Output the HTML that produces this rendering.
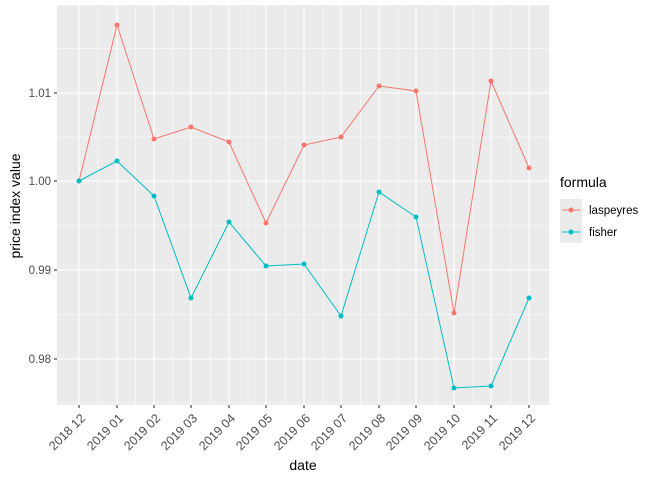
<!DOCTYPE html><html><head><style>body{margin:0;background:#fff}</style></head><body>
<svg width="672" height="480" xmlns="http://www.w3.org/2000/svg" font-family="Liberation Sans, sans-serif">
<rect x="57" y="5" width="492" height="400" fill="#EBEBEB"/>
<g stroke="#fff" stroke-width="0.55">
<line x1="57" x2="549" y1="48.5" y2="48.5"/><line x1="57" x2="549" y1="137" y2="137"/><line x1="57" x2="549" y1="225.5" y2="225.5"/><line x1="57" x2="549" y1="314.5" y2="314.5"/><line x1="57" x2="549" y1="403" y2="403"/>
<line y1="5" y2="405" x1="98" x2="98"/><line y1="5" y2="405" x1="135.5" x2="135.5"/><line y1="5" y2="405" x1="173" x2="173"/><line y1="5" y2="405" x1="210.5" x2="210.5"/><line y1="5" y2="405" x1="248" x2="248"/><line y1="5" y2="405" x1="285.5" x2="285.5"/><line y1="5" y2="405" x1="323" x2="323"/><line y1="5" y2="405" x1="360.5" x2="360.5"/><line y1="5" y2="405" x1="398" x2="398"/><line y1="5" y2="405" x1="435.5" x2="435.5"/><line y1="5" y2="405" x1="473" x2="473"/><line y1="5" y2="405" x1="510.5" x2="510.5"/>
</g>
<g stroke="#fff" stroke-width="1.1">
<line x1="57" x2="549" y1="93" y2="93"/><line x1="57" x2="549" y1="181" y2="181"/><line x1="57" x2="549" y1="270" y2="270"/><line x1="57" x2="549" y1="359" y2="359"/>
<line y1="5" y2="405" x1="79" x2="79"/><line y1="5" y2="405" x1="117" x2="117"/><line y1="5" y2="405" x1="154" x2="154"/><line y1="5" y2="405" x1="191" x2="191"/><line y1="5" y2="405" x1="229" x2="229"/><line y1="5" y2="405" x1="266" x2="266"/><line y1="5" y2="405" x1="304" x2="304"/><line y1="5" y2="405" x1="341" x2="341"/><line y1="5" y2="405" x1="379" x2="379"/><line y1="5" y2="405" x1="416" x2="416"/><line y1="5" y2="405" x1="454" x2="454"/><line y1="5" y2="405" x1="491" x2="491"/><line y1="5" y2="405" x1="529" x2="529"/>
</g>
<polyline fill="none" stroke="#F8766D" points="79,181 117,25 154,139 191,127 229,142 266,223 304,145 341,137 379,86 416,91 454,313 491,81 529,168"/>
<polyline fill="none" stroke="#00BFC4" points="79,181 117,161 154,196 191,298 229,222 266,266 304,264 341,316 379,192 416,217 454,388 491,386 529,298"/>
<g fill="#F8766D"><circle cx="79" cy="181" r="2.5"/><circle cx="117" cy="25" r="2.5"/><circle cx="154" cy="139" r="2.5"/><circle cx="191" cy="127" r="2.5"/><circle cx="229" cy="142" r="2.5"/><circle cx="266" cy="223" r="2.5"/><circle cx="304" cy="145" r="2.5"/><circle cx="341" cy="137" r="2.5"/><circle cx="379" cy="86" r="2.5"/><circle cx="416" cy="91" r="2.5"/><circle cx="454" cy="313" r="2.5"/><circle cx="491" cy="81" r="2.5"/><circle cx="529" cy="168" r="2.5"/></g>
<g fill="#00BFC4"><circle cx="79" cy="181" r="2.5"/><circle cx="117" cy="161" r="2.5"/><circle cx="154" cy="196" r="2.5"/><circle cx="191" cy="298" r="2.5"/><circle cx="229" cy="222" r="2.5"/><circle cx="266" cy="266" r="2.5"/><circle cx="304" cy="264" r="2.5"/><circle cx="341" cy="316" r="2.5"/><circle cx="379" cy="192" r="2.5"/><circle cx="416" cy="217" r="2.5"/><circle cx="454" cy="388" r="2.5"/><circle cx="491" cy="386" r="2.5"/><circle cx="529" cy="298" r="2.5"/></g>
<g stroke="#333" stroke-width="1.1">
<line x1="54" x2="57" y1="93" y2="93"/><line x1="54" x2="57" y1="181" y2="181"/><line x1="54" x2="57" y1="270" y2="270"/><line x1="54" x2="57" y1="359" y2="359"/>
<line y1="405" y2="408" x1="79" x2="79"/><line y1="405" y2="408" x1="117" x2="117"/><line y1="405" y2="408" x1="154" x2="154"/><line y1="405" y2="408" x1="191" x2="191"/><line y1="405" y2="408" x1="229" x2="229"/><line y1="405" y2="408" x1="266" x2="266"/><line y1="405" y2="408" x1="304" x2="304"/><line y1="405" y2="408" x1="341" x2="341"/><line y1="405" y2="408" x1="379" x2="379"/><line y1="405" y2="408" x1="416" x2="416"/><line y1="405" y2="408" x1="454" x2="454"/><line y1="405" y2="408" x1="491" x2="491"/><line y1="405" y2="408" x1="529" x2="529"/>
</g>
<g fill="#4D4D4D" font-size="11.5" text-anchor="end">
<text x="51" y="97">1.01</text><text x="51" y="185">1.00</text><text x="51" y="274">0.99</text><text x="51" y="363">0.98</text>
</g>
<g fill="#4D4D4D" font-size="12.5" text-anchor="end">
<text transform="translate(86,419) rotate(-45)">2018 12</text>
<text transform="translate(124,419) rotate(-45)">2019 01</text>
<text transform="translate(161,419) rotate(-45)">2019 02</text>
<text transform="translate(198,419) rotate(-45)">2019 03</text>
<text transform="translate(236,419) rotate(-45)">2019 04</text>
<text transform="translate(273,419) rotate(-45)">2019 05</text>
<text transform="translate(311,419) rotate(-45)">2019 06</text>
<text transform="translate(348,419) rotate(-45)">2019 07</text>
<text transform="translate(386,419) rotate(-45)">2019 08</text>
<text transform="translate(423,419) rotate(-45)">2019 09</text>
<text transform="translate(461,419) rotate(-45)">2019 10</text>
<text transform="translate(498,419) rotate(-45)">2019 11</text>
<text transform="translate(536,419) rotate(-45)">2019 12</text>
</g>
<text x="303" y="470" font-size="14" text-anchor="middle" fill="#000">date</text>
<text transform="translate(20,206) rotate(-90)" font-size="14" text-anchor="middle" fill="#000">price index value</text>
<text x="560" y="187" font-size="14" fill="#000">formula</text>
<rect x="560" y="199" width="22" height="22" fill="#EBEBEB"/>
<rect x="560" y="221" width="22" height="22" fill="#EBEBEB"/>
<line x1="562" x2="580" y1="210" y2="210" stroke="#F8766D"/><circle cx="571" cy="210" r="2.5" fill="#F8766D"/>
<line x1="562" x2="580" y1="232" y2="232" stroke="#00BFC4"/><circle cx="571" cy="232" r="2.5" fill="#00BFC4"/>
<text x="589" y="214" font-size="11.5" fill="#000">laspeyres</text>
<text x="589" y="236" font-size="11.5" fill="#000">fisher</text>
</svg>
</body></html>
